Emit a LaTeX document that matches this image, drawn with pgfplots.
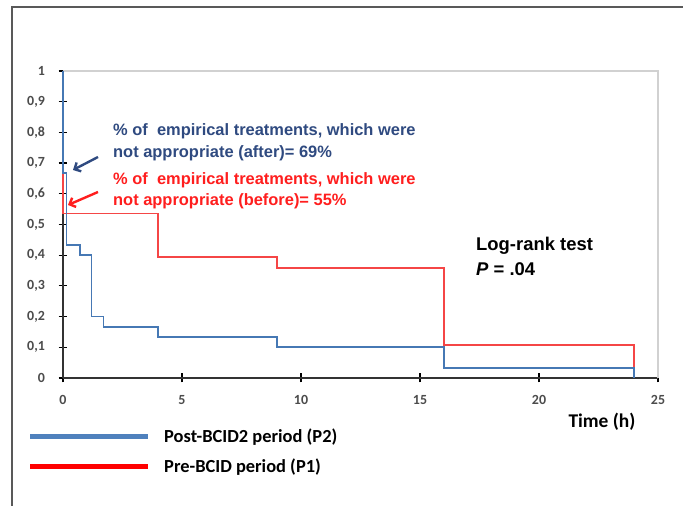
\documentclass[border=0pt]{standalone}
\usepackage{pgfplots}
\pgfplotsset{compat=1.18}
\usepackage{fontspec}
\setmainfont{Liberation Sans}
\newfontfamily\carlito{Carlito}
\usetikzlibrary{arrows.meta}
\definecolor{curveblue}{RGB}{70,120,180}
\definecolor{curvered}{RGB}{245,70,70}
\definecolor{legblue}{RGB}{79,129,189}
\definecolor{legred}{RGB}{255,0,0}
\definecolor{navytext}{RGB}{47,74,128}
\definecolor{redtext}{RGB}{255,30,30}
\begin{document}
\begin{tikzpicture}
\useasboundingbox (0,0) rectangle (683bp,506bp);
\fill[white] (0,0) rectangle (683bp,506bp);
\draw[black!65, line width=1.5bp] (12bp,-10bp) -- (12bp,499bp) -- (700bp,499bp);
\begin{axis}[
  at={(63bp,128bp)}, anchor=south west,
  scale only axis, width=595bp, height=307bp,
  xmin=0, xmax=25, ymin=0, ymax=1,
  clip=false,
  axis x line*=bottom, axis y line*=left,
  axis line style={-, line width=1.6bp, black!80},
  xtick={0,5,10,15,20,25},
  xticklabels={0,5,10,15,20,25},
  ytick={0,0.1,0.2,0.3,0.4,0.5,0.6,0.7,0.8,0.9,1},
  yticklabels={0,{0,1},{0,2},{0,3},{0,4},{0,5},{0,6},{0,7},{0,8},{0,9},1},
  tick align=center, major tick length=9bp,
  tick style={black, line width=1.2bp},
  ticklabel style={font=\carlito\bfseries\fontsize{14}{16}\selectfont, text=black!70},
  xticklabel style={yshift=-9bp},
  yticklabel style={xshift=-10bp},
]
\draw[black!18, line width=2bp] (rel axis cs:0,1) -- (rel axis cs:1,1) -- (rel axis cs:1,0);
\addplot[curvered, line width=1.8bp] coordinates {
 (0,1) (0,0.536) (4,0.536) (4,0.393) (9,0.393) (9,0.357) (16,0.357) (16,0.107) (24,0.107) (24,0)};
\addplot[curveblue, line width=1.8bp] coordinates {
 (0,1) (0,0.667) (0.15,0.667) (0.15,0.433) (0.7,0.433) (0.7,0.4) (1.2,0.4) (1.2,0.2) (1.7,0.2) (1.7,0.167) (4,0.167) (4,0.133) (9,0.133) (9,0.1) (16,0.1) (16,0.033) (24,0.033) (24,0)};
\end{axis}
% annotations
\draw[navytext, line width=2.4bp, -{Straight Barb[length=5bp,width=10bp]}] (98bp,349bp) -- (73bp,336bp);
\draw[redtext, line width=2.4bp, -{Straight Barb[length=5bp,width=10bp]}] (98bp,314bp) -- (68bp,301bp);
\begin{scope}[every node/.style={anchor=west, inner sep=0pt, font=\bfseries\fontsize{16.5}{18}\selectfont}]
\node[text=navytext] at (113bp,375bp) {\% of~ empirical treatments, which were};
\node[text=navytext] at (113bp,353bp) {not appropriate (after)= 69\%};
\node[text=redtext] at (113bp,326bp) {\% of~ empirical treatments, which were};
\node[text=redtext] at (113bp,305bp) {not appropriate (before)= 55\%};
\end{scope}
\node[anchor=west, inner sep=0pt, font=\bfseries\fontsize{18.5}{20}\selectfont] at (476bp,260bp) {Log-rank test};
\node[anchor=west, inner sep=0pt, font=\bfseries\fontsize{18.5}{20}\selectfont] at (476bp,237bp) {\textit{P} = .04};
\node[inner sep=0pt, font=\carlito\bfseries\fontsize{19.5}{21}\selectfont] at (602bp,84bp) {Time (h)};
% legend
\draw[legblue, line width=5bp] (30bp,69bp) -- (148bp,69bp);
\draw[legred, line width=5bp] (30bp,39bp) -- (148bp,39bp);
\node[anchor=west, inner sep=0pt, font=\carlito\bfseries\fontsize{18.5}{20}\selectfont] at (164bp,69bp) {Post-BCID2 period (P2)};
\node[anchor=west, inner sep=0pt, font=\carlito\bfseries\fontsize{18.5}{20}\selectfont] at (164bp,39bp) {Pre-BCID period (P1)};
\end{tikzpicture}
\end{document}
